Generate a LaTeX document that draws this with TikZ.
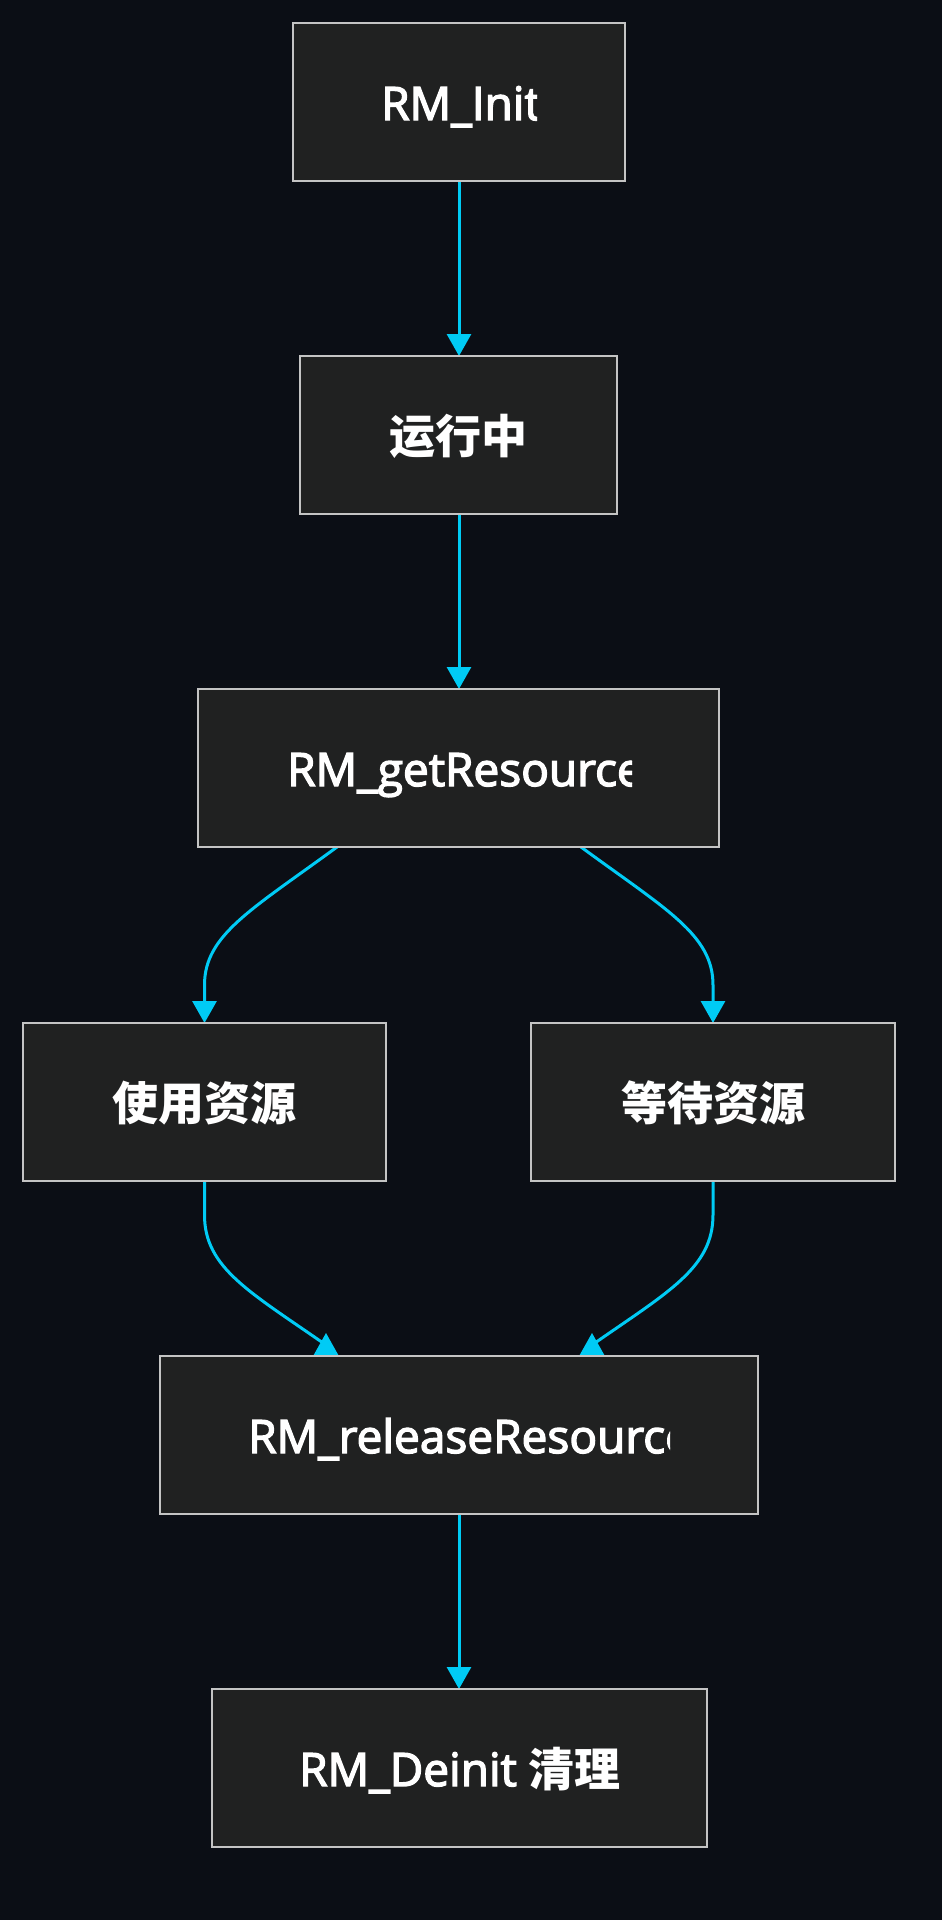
\documentclass[tikz,border=0pt]{standalone}
\usepackage{fontspec}
\setmainfont{Open Sans}[RawFeature={embolden=3}]
\newfontfamily\cjk{Noto Sans CJK SC}
\usetikzlibrary{arrows.meta}
\definecolor{bgc}{HTML}{0B0E15}
\definecolor{boxfill}{HTML}{202121}
\definecolor{boxline}{HTML}{C4C4C4}
\definecolor{conncol}{HTML}{00CBF5}
\tikzset{
  box/.style={draw=boxline, fill=boxfill, line width=2.6pt, rectangle, inner sep=0pt},
  lbl/.style={text=white, inner sep=0pt, font=\fontsize{46}{52}\selectfont},
  zh/.style={text=white, inner sep=0pt, font=\cjk\bfseries\fontsize{46}{52}\selectfont},
  conn/.style={draw=conncol, line width=3pt},
  arr/.style={conn, -{Triangle[length=22pt,width=24pt]}},
  tipfill/.style={fill=conncol}
}
\begin{document}
\begin{tikzpicture}[x=1pt,y=-1pt]
\fill[bgc] (0,0) rectangle (942,1920);
\useasboundingbox (0,0) rectangle (942,1920);

% connectors (drawn first)
\coordinate (initS) at (459,181);
\coordinate (runN) at (459,356);
\coordinate (runS) at (459,514);
\coordinate (getN) at (459,689);
\coordinate (getSL) at (337,847);
\coordinate (getSR) at (581,847);
\coordinate (useN) at (204.5,1023);
\coordinate (waitN) at (713,1023);
\coordinate (useS) at (204.5,1181);
\coordinate (waitS) at (713,1181);
\coordinate (relL) at (326,1345);
\coordinate (relR) at (592,1345);
\coordinate (relS) at (459,1514);
\coordinate (deN) at (459,1689);

\draw[arr] (initS) -- (runN);
\draw[arr] (runS) -- (getN);
\draw[arr] (getSL) .. controls (251,910) and (204.5,935) .. (204.5,985) -- (useN);
\draw[arr] (getSR) .. controls (667,910) and (713,935) .. (713,985) -- (waitN);
\draw[conn] (useS) -- (204.5,1215) .. controls (204.5,1268) and (250,1292) .. (relL);
\draw[conn] (waitS) -- (713,1215) .. controls (713,1268) and (668,1292) .. (relR);
\fill[tipfill] (326,1333) -- (312,1358) -- (340,1358) -- cycle;
\fill[tipfill] (592,1333) -- (578,1358) -- (606,1358) -- cycle;
\draw[arr] (relS) -- (deN);

% boxes
\node[box, minimum width=332pt, minimum height=158pt] (init) at (459,102) {};
\node[box, minimum width=317pt, minimum height=158pt] (run) at (458.5,435) {};
\node[box, minimum width=521pt, minimum height=158pt] (get) at (458.5,768) {};
\node[box, minimum width=363pt, minimum height=158pt] (use) at (204.5,1102) {};
\node[box, minimum width=364pt, minimum height=158pt] (wait) at (713,1102) {};
\node[box, minimum width=598pt, minimum height=158pt] (rel) at (459,1435) {};
\node[box, minimum width=495pt, minimum height=158pt] (de) at (459.5,1768) {};

% labels
\begin{scope}
\clip (383,60) rectangle (537,150);
\node[lbl, anchor=base west] (initT) at (381,120) {RM\_Init};
\end{scope}
\node[zh, anchor=base] (runT) at (458.5,453) {运行中};
\begin{scope}
\clip (289,720) rectangle (632,820);
\node[lbl, anchor=base west] (getT) at (287,786) {RM\_getResource};
\end{scope}
\node[zh, anchor=base] (useT) at (204.5,1120) {使用资源};
\node[zh, anchor=base] (waitT) at (713,1120) {等待资源};
\begin{scope}
\clip (250,1390) rectangle (670,1490);
\node[lbl, anchor=base west] (relT) at (248,1453) {RM\_releaseResource};
\end{scope}
\node[lbl, anchor=base] (deT) at (460,1786) {RM\_Deinit {\cjk\bfseries 清理}};
\end{tikzpicture}
\end{document}
